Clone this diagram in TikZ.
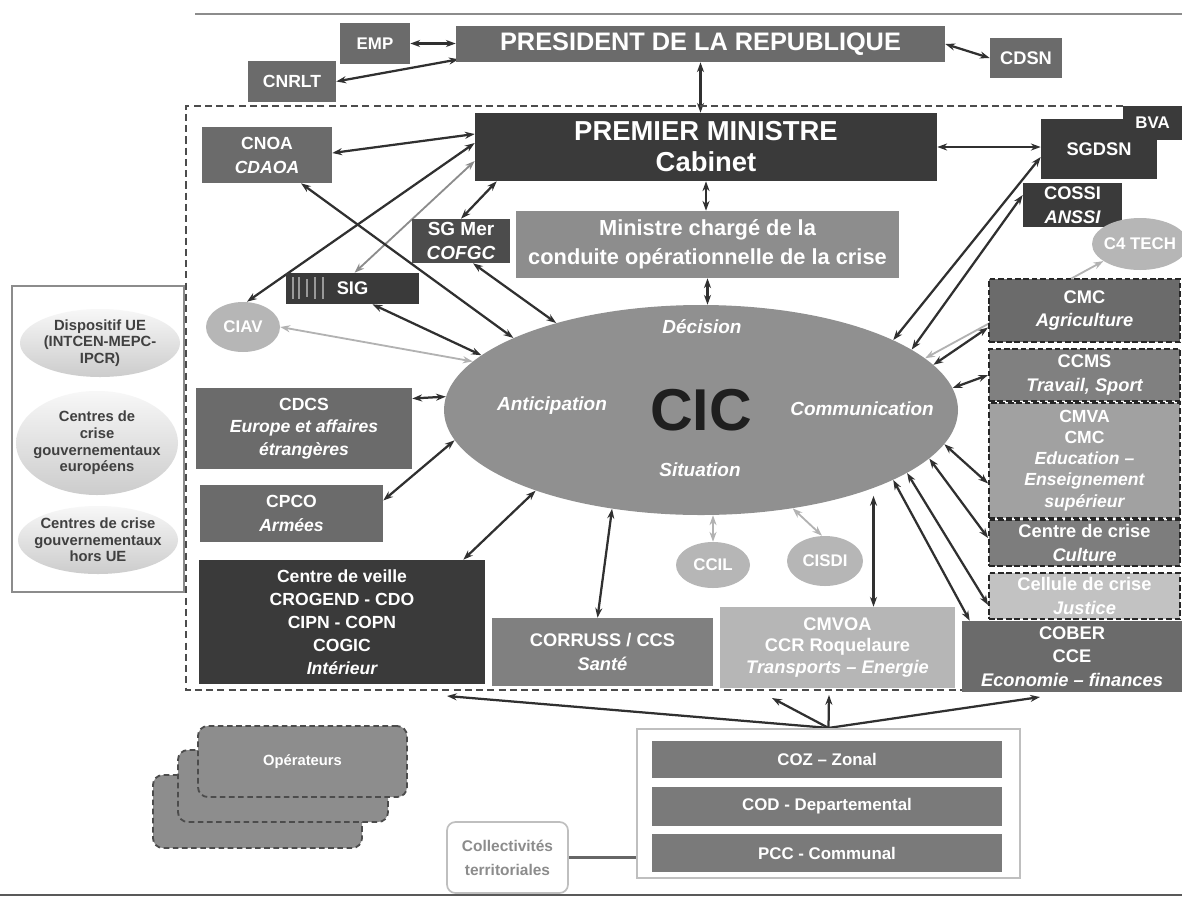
\documentclass[tikz,border=0pt]{standalone}
\usepackage{fontspec}
\setmainfont{Liberation Sans}
\usetikzlibrary{arrows.meta,shapes.geometric,backgrounds}
\definecolor{boxmid}{HTML}{6B6B6B}
\definecolor{boxdark}{HTML}{3A3A3A}
\definecolor{boxsoft}{HTML}{8D8D8D}
\definecolor{boxlight}{HTML}{B6B6B6}
\definecolor{cicfill}{HTML}{909090}
\definecolor{linkgray}{HTML}{303030}
\begin{document}
\begin{tikzpicture}[x=0.025cm,y=-0.025cm,
 sz/.style 2 args={minimum width=#1*0.025cm,minimum height=#2*0.025cm},
 box/.style={rectangle,inner sep=0pt,align=center,text=white,font={\fontsize{13}{16.5}\selectfont\bfseries}},
 dbox/.style={box,draw=black!85,line width=1.3pt,dash pattern=on 4pt off 2pt},
 oval/.style={box,ellipse,inner xsep=-3pt},
 pale/.style={ellipse,inner xsep=-5pt,inner ysep=-2pt,align=center,text=black!75,top color=black!3,bottom color=black!20,font={\fontsize{10.5}{11.8}\selectfont\bfseries}},
 tag/.style={text=white,font={\fontsize{13.5}{16}\selectfont\bfseries\itshape}},
 arr/.style={draw=linkgray,line width=1.6pt,{Stealth[length=7pt,width=5pt]}-{Stealth[length=7pt,width=5pt]}},
 garr/.style={arr,draw=black!30,line width=1.3pt},
 oneway/.style={draw=linkgray,line width=1.6pt,-{Stealth[length=7pt,width=5pt]}},
 oper/.style={box,rounded corners=7pt,fill=boxsoft,draw=black!70,line width=1.3pt,dash pattern=on 4pt off 2.5pt,font={\fontsize{10.5}{12}\selectfont\bfseries}},
 level/.style={box,fill=boxmid!90,font={\fontsize{12}{14}\selectfont\bfseries}}]
 \useasboundingbox (0,0) rectangle (1182,902);
 \draw[black!45,line width=1pt] (195,14) -- (1182,14);
 \draw[black!65,line width=2pt] (0,895) -- (1182,895);
 \draw[black!70,line width=1.2pt,dash pattern=on 5pt off 3pt] (1123,106) -| (186,690) -- (1182,690);
 \coordinate (zleft) at (447,696);
 \coordinate (zmid) at (772,698);
 \coordinate (zup) at (829,695);
 \coordinate (zright) at (1040,697);

 \node[box,sz={489}{36},fill=boxmid,font={\fontsize{18}{20}\selectfont\bfseries}] (pres) at (700.5,44) {PRESIDENT DE LA REPUBLIQUE};
 \node[box,sz={70}{41},fill=boxmid,font={\fontsize{12}{14}\selectfont\bfseries}] (emp) at (375,43.5) {EMP};
 \node[box,sz={88}{41},fill=boxmid,font={\fontsize{12.5}{14}\selectfont\bfseries}] (cnrlt) at (292,81.5) {CNRLT};
 \node[box,sz={72}{40},fill=boxmid] (cdsn) at (1026,58) {CDSN};

 \node[box,sz={462}{68},fill=boxdark,font={\fontsize{19.5}{22}\selectfont\bfseries}] (pm) at (706,147) {PREMIER MINISTRE\\Cabinet};
 \node[box,sz={130}{56},fill=boxmid,font={\fontsize{12.5}{17}\selectfont\bfseries}] (cnoa) at (267,155) {CNOA\\\itshape CDAOA};
 \node[box,sz={116}{60},fill=boxdark] (sgdsn) at (1099,149) {SGDSN};
 \node[box,sz={59}{34},fill=boxdark,font={\fontsize{12}{14}\selectfont\bfseries}] (bva) at (1152.5,123) {BVA};
 \node[box,sz={99}{44},fill=boxdark,font={\fontsize{13}{17}\selectfont\bfseries}] (cossi) at (1072.5,205) {COSSI\\\itshape ANSSI};
 \node[oval,sz={96}{52},fill=boxlight,font={\fontsize{12}{14}\selectfont\bfseries}] (c4tech) at (1140,244) {C4 TECH};
 \node[box,sz={383}{67},fill=boxsoft,font={\fontsize{15.5}{20.5}\selectfont\bfseries}] (ministre) at (707.5,244.5) {Ministre chargé de la\\conduite opérationnelle de la crise};
 \node[box,sz={98}{44},fill=black!70,font={\fontsize{13.5}{16.5}\selectfont\bfseries}] (sgmer) at (461,241) {SG Mer\\\itshape COFGC};
 \node[box,sz={133}{31},fill=boxdark] (sig) at (352.5,288.5) {SIG};
 \draw[black!40,line width=1pt] (293,277) -- (293,299);
 \draw[black!40,line width=1pt] (299,277) -- (299,299);
 \draw[black!40,line width=1pt] (307,279) -- (307,297);
 \draw[black!40,line width=1pt] (315,277) -- (315,299);
 \draw[black!40,line width=1pt] (323,277) -- (323,299);
 \node[oval,sz={74}{50},fill=boxlight,font={\fontsize{12}{14}\selectfont\bfseries}] (ciav) at (243,327) {CIAV};

 \node[oval,sz={514}{210},fill=cicfill,text=black!88,font={\fontsize{42}{44}\selectfont\bfseries}] (cic) at (701,410) {CIC};
 \node[tag] (decision) at (702,327) {Décision};
 \node[tag] (anticipation) at (552,406) {Anticipation};
 \node[tag] (communication) at (862,409) {Communication};
 \node[tag] (situation) at (700,470) {Situation};

 \node[box,sz={216}{81},fill=boxmid,font={\fontsize{12.5}{16}\selectfont\bfseries}] (cdcs) at (304,428.5) {CDCS\\\itshape Europe et affaires\\\itshape étrangères};
 \node[box,sz={183}{57},fill=boxmid,font={\fontsize{12.5}{16.5}\selectfont\bfseries}] (cpco) at (291.5,513.5) {CPCO\\\itshape Armées};
 \node[box,sz={286}{124},fill=boxdark,font={\fontsize{12.5}{16.4}\selectfont\bfseries}] (veille) at (342,622) {Centre de veille\\CROGEND - CDO\\CIPN - COPN\\COGIC\\\itshape Intérieur};
 \node[box,sz={221}{68},fill=black!50] (corruss) at (602.5,652) {CORRUSS / CCS\\\itshape Santé};
 \node[box,sz={235}{81},fill=boxlight,font={\fontsize{13}{15.6}\selectfont\bfseries}] (cmvoa) at (837.5,647.5) {CMVOA\\CCR Roquelaure\\\itshape Transports – Energie};
 \node[oval,sz={74}{46},fill=boxlight,font={\fontsize{12}{14}\selectfont\bfseries}] (ccil) at (713,565) {CCIL};
 \node[oval,sz={76}{50},fill=boxlight,font={\fontsize{12}{14}\selectfont\bfseries}] (cisdi) at (825,561) {CISDI};
 \node[box,sz={220}{71},fill=boxmid] (cober) at (1072,656.5) {COBER\\CCE\\\itshape Economie – finances};

 \node[dbox,sz={191}{63},fill=boxmid] (cmc) at (1084.5,310.5) {CMC\\\itshape Agriculture};
 \node[dbox,sz={191}{52},fill=black!50] (ccms) at (1084.5,375) {CCMS\\\itshape Travail, Sport};
 \node[dbox,sz={191}{115},fill=black!37,font={\fontsize{12.5}{15}\selectfont\bfseries}] (cmva) at (1084.5,460.5) {CMVA\\CMC\\\itshape Education –\\\itshape Enseignement\\\itshape supérieur};
 \node[dbox,sz={191}{46},fill=black!51] (culture) at (1084.5,543) {Centre de crise\\\itshape Culture};
 \node[dbox,sz={191}{46},fill=black!24] (justice) at (1084.5,596) {Cellule de crise\\\itshape Justice};

 \node[draw=black!45,fill=white,line width=0.8pt,inner sep=0pt,sz={172}{306}] (ext) at (98,439) {};
 \node[pale,sz={160}{68}] (ue) at (100,343) {Dispositif UE\\(INTCEN-MEPC-\\IPCR)};
 \node[pale,sz={162}{104}] (europe) at (97,443) {Centres de\\crise\\gouvernementaux\\européens};
 \node[pale,sz={160}{68}] (horsue) at (98,540) {Centres de crise\\gouvernementaux\\hors UE};

 \node[oper,sz={209}{73}] (op3) at (257.5,811.5) {};
 \node[oper,sz={210}{72}] (op2) at (283,786) {};
 \node[oper,sz={209}{71}] (op1) at (302.5,761.5) {Opérateurs};
 \node[box,rounded corners=6pt,sz={121}{71},draw=black!25,line width=1.2pt,fill=white,text=black!45,font={\fontsize{11}{17}\selectfont\bfseries}] (collect) at (507.5,857.5) {Collectivités\\territoriales};
 \node[rectangle,sz={383}{149},draw=black!25,line width=1.5pt,fill=white] (local) at (828.5,803.5) {};
 \node[level,sz={350}{37}] (coz) at (827,759.5) {COZ – Zonal};
 \node[level,sz={350}{39}] (cod) at (827,806.5) {COD - Departemental};
 \node[level,sz={350}{38}] (pcc) at (827,853) {PCC - Communal};

 \begin{pgfonlayer}{background}
 \draw[arr] (emp.east) -- (emp.east -| pres.west);
 \draw[arr] (cnrlt.east) -- ([shift={(3,-3)}]pres.south west);
 \draw[arr] (pres.east) -- (cdsn.west);
 \draw[arr] (pres.south) -- (pres.south |- pm.north);
 \draw[arr] ([shift={(0,-13)}]pm.west) -- ([shift={(0,-2)}]cnoa.east);
 \draw[arr] ([shift={(0,-4)}]pm.west) -- ([shift={(4,0)}]ciav.north);
 \draw[garr,draw=black!45] ([shift={(0,14)}]pm.west) -- ([shift={(2,0)}]sig.north);
 \draw[arr] ([shift={(22,0)}]pm.south west) -- (sgmer.north);
 \draw[arr] (pm.east) -- (pm.east -| sgdsn.west);
 \draw[arr] (pm.south) -- (pm.south |- ministre.north);
 \draw[arr] (ministre.south) -- (ministre.south |- cic.north);
 \draw[arr] ([shift={(34,0)}]cnoa.south) -- (cic.159);
 \draw[arr] ([shift={(20,0)}]sig.south) -- (cic.166);
 \draw[arr] ([shift={(12,0)}]sgmer.south) -- (cic.149);
 \draw[garr] (ciav.east) -- (cic.168);
 \draw[arr] ([shift={(0,-30)}]cdcs.east) -- (cic.177);
 \draw[arr] ([shift={(0,-13)}]cpco.east) -- (cic.187);
 \draw[arr] ([shift={(-22,0)}]veille.north east) -- (cic.206);
 \draw[arr] ([shift={(-5,0)}]corruss.north) -- (cic.228);
 \coordinate (cmvoatop) at ([shift={(36,0)}]cmvoa.north);
 \draw[arr] (cmvoatop) -- (cmvoatop |- cic.330);
 \draw[arr] ([shift={(8,0)}]cober.north west) -- (cic.340);
 \draw[arr] ([shift={(0,9)}]justice.west) -- (cic.343);
 \draw[arr] ([shift={(0,-5)}]culture.west) -- (cic.348);
 \draw[arr] ([shift={(0,23)}]cmva.west) -- (cic.352);
 \draw[arr] (ccms.west) -- (cic.5);
 \draw[arr] ([shift={(0,17)}]cmc.west) -- (cic.11);
 \draw[garr] (c4tech.205) -- (cic.13);
 \draw[arr] ([shift={(0,8)}]sgdsn.west) -- (cic.20);
 \draw[arr] ([shift={(0,-10)}]cossi.west) -- (cic.16);
 \draw[garr] (ccil.north) -- (ccil.north |- cic.south);
 \draw[garr] ([shift={(-3,0)}]cisdi.north) -- (cic.313);
 \draw[oneway] (local.north) -- (zleft);
 \draw[oneway] (local.north) -- (zmid);
 \draw[oneway] (local.north) -- (zup);
 \draw[oneway] (local.north) -- (zright);
 \draw[black!60,line width=2pt] (collect.east) -- (collect.east -| local.west);
 \end{pgfonlayer}
\end{tikzpicture}
\end{document}
